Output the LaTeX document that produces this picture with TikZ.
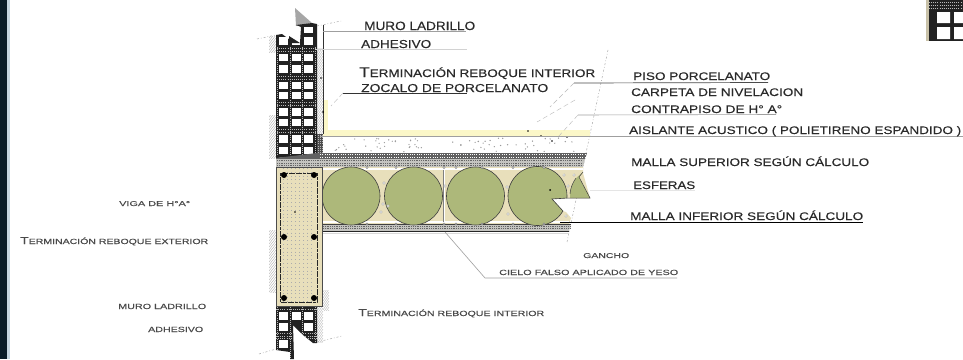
\documentclass[tikz,border=0pt]{standalone}
\usepackage{fontspec}
\usepackage{graphicx}
\setmainfont{Liberation Sans}
\usetikzlibrary{calc}
\definecolor{olive}{HTML}{ADB87A}
\definecolor{beige}{HTML}{E8DFBB}
\definecolor{bandgray}{HTML}{C4C4C0}
\definecolor{brickdark}{HTML}{222222}
\definecolor{yell}{HTML}{FBF7C8}
\definecolor{txt}{HTML}{2A2A2A}
\definecolor{faded}{HTML}{4A4A4A}
\definecolor{edgeband}{HTML}{0A1C28}
\definecolor{edgelight}{HTML}{C5D5E0}
\newsavebox{\lblbox}
\newlength{\lblht}
% \fitlbl{width}{size}{text}: text set at the size, stretched to the width
\newcommand{\fitlbl}[3]{\sbox{\lblbox}{\fontsize{#2}{#2}\selectfont\addfontfeatures{FakeBold=0.2}#3}\setlength{\lblht}{\ht\lblbox}\resizebox{#1pt}{\lblht}{\usebox{\lblbox}}}
\newcommand{\bigT}[2]{{\fontsize{#1}{#1}\selectfont #2}}
\tikzset{
  x=1pt,y=-1pt,
  lab/.style={anchor=base west,inner sep=0pt,text=txt},
  fadelab/.style={anchor=base west,inner sep=0pt,text=faded},
  lead/.style={draw=gray!75,line width=0.6pt},
  leadlight/.style={draw=gray!35,line width=0.6pt},
  leaddark/.style={draw=black!80,line width=0.8pt},
  dashlead/.style={draw=gray!55,line width=0.4pt,dash pattern=on 5pt off 3pt},
  breakline/.style={draw=gray!70,line width=0.5pt,dash pattern=on 2pt off 2pt on 0.7pt off 2pt},
  hatchline/.style={draw=gray!60,line width=0.4pt},
  speck/.style={draw=gray!55,line width=0.8pt,dash pattern=on 0.8pt off 1.3pt},
  speckw/.style={draw=white,line width=0.9pt,dash pattern=on 0.9pt off 1.4pt},
  speckd/.style={draw=gray!80!black,line width=0.7pt,dash pattern=on 0.7pt off 1.1pt},
  sphere/.style={fill=olive,draw=black!75,line width=0.6pt},
}
\newcommand{\holes}[2]{\foreach \hx in {#1}{\foreach \hy/\hh in {#2}{\fill[white] (\hx,\hy) rectangle ++(9,\hh);}}}
\newcommand{\hatchstrip}[4]{\begin{scope}\clip (#1,#2) rectangle (#3,#4);
 \pgfmathsetmacro{\hs}{#2-10}\pgfmathsetmacro{\hn}{\hs+3}
 \foreach \hy in {\hs,\hn,...,#4}{\draw[hatchline] (#1,\hy+9) -- (#3,\hy);}\end{scope}}
\begin{document}
\begin{tikzpicture}
\useasboundingbox (0,0) rectangle (963,359);
\fill[white] (0,0) rectangle (963,359);
\fill[edgeband] (0,0) rectangle (6.5,359);
\fill[edgelight] (6.5,0) rectangle (10,359);
% top-right fragment
\fill[brickdark] (929,0) rectangle (963,41);
\fill[beige!70!gray] (926,0) rectangle (929,41);
\foreach \ty in {2,5,8}{\draw[speck] (929,\ty) -- (963,\ty);}
\fill[white] (937,12) rectangle (950,23) (937,27) rectangle (950,39) (954,12) rectangle (963,23) (954,27) rectangle (963,39);
% break lines and dashed cut
\coordinate (b1a) at (257,39); \coordinate (b1b) at (276,35);
\coordinate (b2a) at (317,26); \coordinate (b2b) at (341,21);
\coordinate (b3a) at (608,50); \coordinate (b3b) at (567,242);
\coordinate (b4a) at (259,354); \coordinate (b4b) at (276,349);
\coordinate (b5a) at (317,342); \coordinate (b5b) at (342,336);
\draw[breakline] (b1a)--(b1b); \draw[breakline] (b2a)--(b2b); \draw[breakline] (b3a)--(b3b);
\draw[breakline] (b4a)--(b4b); \draw[breakline] (b5a)--(b5b);
% hatched plaster
\hatchstrip{269}{36}{276}{52}
\hatchstrip{269}{115}{276}{158}
\hatchstrip{317}{48}{323}{135}
\hatchstrip{269}{230}{276}{292}
\hatchstrip{323}{290}{329}{310}
\hatchstrip{317}{306}{323}{342}
% upper wall
\fill[gray!70] (295,8) -- (312,23) -- (296,26) -- cycle;
\fill[brickdark] (276,35) -- (282,34) -- (290,40) -- (300,43) -- (301,27) -- (296,25) -- (312,23) -- (317,24) -- (317,155) -- (276,158) -- cycle;
\foreach \wx in {277.5,290,302.5,315.5}{\draw[speck] (\wx,47) -- (\wx,155);}
\foreach \wy in {48,51,76,79,102,105,129,132}{\draw[speck] (277,\wy) -- (316,\wy);}
\holes{304}{27/6,37/8}
\holes{279}{37/8}
\fill[white] (292,38) rectangle (300,45);
\fill[brickdark] (289,36) -- (300,43) -- (289,43) -- cycle;
\holes{279,292,304}{54/7,65/8,82/7,92/7,108/8,119/7,135/8,147/7}
% inner finish
\fill[yell] (323,100) rectangle (328,132);
\fill[yell] (323,130) rectangle (590,136);
\draw[black!80,line width=0.7pt] (323,25) -- (323,134);
\fill[black] (323,112) circle (1) (321,78) circle (0.9);
\fill[black!70] (317,134) rectangle (323,155);
\foreach \wx in {318.5,320.5,322.5}{\draw[speck] (\wx,135) -- (\wx,154);}
% floor screed specks
\pgfmathsetseed{11}
\foreach \k in {1,...,70}{\pgfmathsetmacro{\sx}{335+rnd*245}\pgfmathsetmacro{\sy}{138+rnd*14}\fill[gray!80] (\sx,\sy) circle (0.7);}
\foreach \px/\py in {528/131,541/136,552/141,567/137}{\fill[black] (\px,\py) circle (0.9);}
% slab bands
\fill[black!62] (317,153) -- (587,153) -- (585,159) -- (276,159) -- (276,158) -- cycle;
\foreach \gy in {154.5,157}{\draw[speckw] (320,\gy) -- (585,\gy);}
\fill[bandgray] (276,159) -- (585,159) -- (583,167) -- (276,167) -- cycle;
\foreach \gy in {160.5,163,165.5}{\draw[speckd] (277,\gy) -- (583,\gy);}
\draw[black!80,line width=0.5pt] (276,167) -- (583,167);
% core
\fill[beige] (322,167) -- (583,167) -- (583,173) -- (590,198) -- (567,198) -- (552,199) -- (563,211) -- (566,212) -- (571,218) -- (569,224) -- (322,224) -- cycle;
\fill[white] (323,167.6) rectangle (583,169.6);
\fill[white] (323,220.5) rectangle (569,222.5);
% cut fifth sphere
\fill[olive] plot[domain=143:176,samples=20] ({599.5+29.5*cos(\x)},{196-29.5*sin(\x)}) -- (570,198) -- (590,198) -- (579,177) -- (583,172) -- cycle;
\draw[black!75,line width=0.5pt] (583,172) -- (579,177) -- (590,198) -- (566.5,198);
\draw[black!75,line width=0.5pt] plot[domain=143:176,samples=20] ({599.5+29.5*cos(\x)},{196-29.5*sin(\x)});
% lower band
\fill[bandgray] (276,224) -- (571,224) -- (569,231) -- (276,231) -- cycle;
\foreach \gy in {226,228.5}{\draw[speckd] (323,\gy) -- (570,\gy);}
\draw[black!75,line width=0.6pt] (323,224) -- (571,224);
\draw[black!85,line width=0.7pt] (323,231) -- (569,231);
\draw[gray!30,line width=0.8pt] (323,233) -- (569,233);
% spheres
\foreach \cx in {351,413.5,475.5}{\draw[sphere] (\cx,196) circle (29);}
\draw[sphere] plot[domain=30.5:364,samples=70] ({537.5+29.5*cos(\x)},{196+29.5*sin(\x)}) -- (552,199) -- cycle;
\fill[black] (550,190) circle (1);
\draw[white,line width=0.8pt] (444,168) -- (444,224);
\draw[gray,line width=0.4pt] (443,170) -- (443,222);
% mesh rings
\foreach \mx in {367,396,444,456,482,513,544}{\draw[black!60,fill=white,line width=0.4pt] (\mx,167.5) circle (1.2);\draw[black!60,fill=white,line width=0.4pt] (\mx,224) circle (1.2);}
\foreach \mx/\my in {383/204,381/212,388/206,384/183,445/186,507/187,564/175,574/175,568/186,508/214,566/216}{\draw[gray!70,fill=white,line width=0.3pt] (\mx,\my) circle (1.3);}
% beam
\fill[beige] (276,167) rectangle (322,306);
\foreach \bx in {283,287,291,295,299,303,307,311}{\draw[gray!65,line width=0.5pt,dash pattern=on 0.8pt off 3pt] (\bx,168) -- (\bx,304);}
\draw[black!70,line width=0.6pt] (276,167) rectangle (322,306);
\draw[black!85,line width=0.7pt,dash pattern=on 3pt off 0.6pt] (280,173) rectangle (317,302);
\foreach \rx/\ry in {284/175,314/175,284/237,314/237,284/298,314/298}{\fill[black] (\rx,\ry) circle (3);}
\fill[black] (295,212) circle (0.8);
% lower wall
\fill[brickdark] (276,307) -- (317,307) -- (317,343) -- (313,343) -- (303,335) -- (293,325) -- (294,359) -- (290,359) -- (290,352) -- (276,350) -- cycle;
\begin{scope}
\clip (276,307) -- (317,307) -- (317,343) -- (313,343) -- (303,335) -- (293,325) -- (294,359) -- (290,359) -- (290,352) -- (276,350) -- cycle;
\foreach \wx in {277.5,290,302.5,315.5}{\draw[speck] (\wx,307) -- (\wx,359);}
\foreach \wy in {309,333,336,338}{\draw[speck] (276,\wy) -- (317,\wy);}
\end{scope}
\holes{279,292,304}{312/8}
\holes{279,304}{323/8}
\holes{279}{340/8}
% leader lines
\coordinate (mureA) at (323,31); \coordinate (adhA) at (315,49);
\coordinate (zocA) at (343,93); \coordinate (zocB) at (331,106);
\coordinate (pisA) at (574,83); \coordinate (pisB) at (550,107);
\coordinate (conA) at (578,115); \coordinate (conB) at (558,137);
\coordinate (carB) at (575,100); \coordinate (carC) at (537,122);
\coordinate (aisA) at (320,136.5);
\coordinate (esfA) at (590,190); \coordinate (malA) at (560,222);
\coordinate (cieA) at (445,232); \coordinate (cieB) at (485,278);
\draw[lead] (mureA) -- (466,31);
\draw[leadlight] (adhA) -- (467,49);
\draw[leaddark] (zocA) -- (467,93);
\draw[dashlead] (zocA) -- (zocB);
\draw[black!70,line width=0.7pt] (pisA) -- (768,82.5);
\draw[dashlead] (pisA) -- (pisB);
\draw[dashlead] (carB) -- (carC);
\draw[lead] (conA) -- (776,114.5);
\draw[dashlead] (conA) -- (conB);
\draw[lead] (aisA) -- (963,136.5);
\draw[leadlight,draw=gray!20] (esfA) -- (695,190);
\draw[black,line width=0.7pt] (malA) -- (863,222);
\draw[lead] (cieA) -- (cieB) -- (677,278);
% labels
\node[lab] (t1) at (364,30) {\fitlbl{111}{12}{MURO LADRILLO}};
\node[lab] (t2) at (361,48) {\fitlbl{70}{11.5}{ADHESIVO}};
\node[lab] (t3) at (359,77) {\fitlbl{236}{11}{\bigT{14}{T}ERMINACIÓN REBOQUE INTERIOR}};
\node[lab] (t4) at (361,92) {\fitlbl{187}{11.5}{ZOCALO DE PORCELANATO}};
\node[lab] (t5) at (633,80) {\fitlbl{137}{11}{PISO PORCELANATO}};
\node[lab] (t6) at (631,96) {\fitlbl{172}{11}{CARPETA DE NIVELACION}};
\node[lab] (t7) at (631,113) {\fitlbl{151}{11}{CONTRAPISO DE H° A°}};
\node[lab] (t8) at (629,134) {\fitlbl{332}{11}{AISLANTE ACUSTICO ( POLIETIRENO ESPANDIDO )}};
\node[lab] (t9) at (631,166) {\fitlbl{238}{11}{MALLA SUPERIOR SEGÚN CÁLCULO}};
\node[lab] (t10) at (633,189) {\fitlbl{62}{11}{ESFERAS}};
\node[lab] (t11) at (630,220) {\fitlbl{233}{11}{MALLA INFERIOR SEGÚN CÁLCULO}};
\node[fadelab] (t12) at (583,258) {\fitlbl{46}{7}{GANCHO}};
\node[fadelab] (t13) at (499,275) {\fitlbl{179}{7.5}{CIELO FALSO APLICADO DE YESO}};
\node[fadelab] (t14) at (358,316) {\fitlbl{186}{7.5}{\bigT{10}{T}ERMINACIÓN REBOQUE INTERIOR}};
\node[fadelab] (t15) at (119,206) {\fitlbl{71}{7}{VIGA DE H°A°}};
\node[fadelab] (t16) at (20,244) {\fitlbl{188}{7.5}{\bigT{10}{T}ERMINACIÓN REBOQUE EXTERIOR}};
\node[fadelab] (t17) at (118,309) {\fitlbl{88}{7.5}{MURO LADRILLO}};
\node[fadelab] (t18) at (148,332) {\fitlbl{55}{7.5}{ADHESIVO}};
\end{tikzpicture}
\end{document}
